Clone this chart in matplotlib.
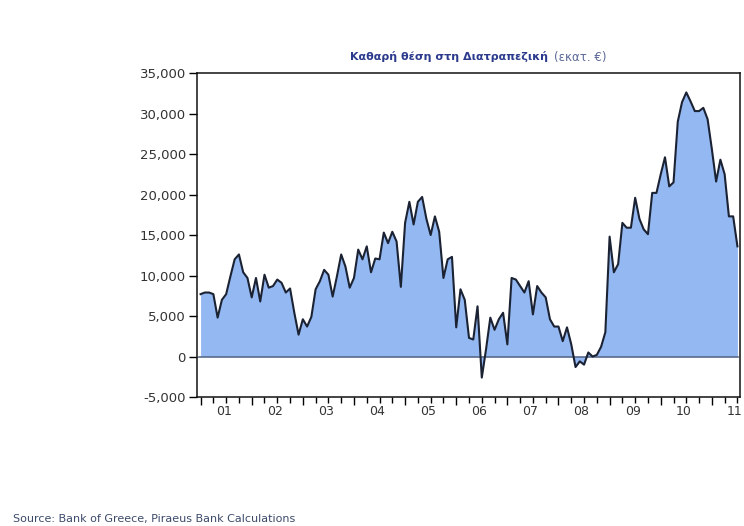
import numpy as np
import matplotlib.pyplot as plt
from matplotlib.ticker import FuncFormatter, MultipleLocator, FixedLocator

# net interbank position, million EUR, monthly from Jan 2001
start_year = 2001
values = [
    7700, 7900, 7900, 7700, 4800, 7000, 7700, 9900, 12000, 12600, 10400, 9700,     # 2001
    7300, 9700, 6800, 10100, 8500, 8700, 9500, 9100, 7900, 8400, 5400, 2700,       # 2002
    4600, 3700, 4900, 8300, 9300, 10700, 10100, 7400, 9900, 12600, 11100, 8500,    # 2003
    9700, 13200, 12000, 13600, 10400, 12100, 12000, 15300, 14000, 15400, 14200, 8600,  # 2004
    16500, 19100, 16300, 19100, 19700, 17000, 15000, 17300, 15400, 9700, 12000, 12300,  # 2005
    3600, 8300, 7000, 2300, 2100, 6200, -2600, 900, 4800, 3300, 4600, 5400,        # 2006
    1500, 9700, 9500, 8700, 7900, 9300, 5200, 8700, 7900, 7300, 4600, 3700,        # 2007
    3700, 1900, 3600, 1500, -1300, -600, -1000, 500, 0, 200, 1200, 3000,           # 2008
    14800, 10400, 11400, 16500, 15900, 15900, 19600, 17000, 15700, 15100, 20200, 20200,  # 2009
    22500, 24600, 21000, 21500, 29000, 31400, 32600, 31500, 30300, 30300, 30700, 29300,  # 2010
    25600, 21600, 24300, 22500, 17300, 17300, 13600,                              # 2011
]
year_labels = ['01', '02', '03', '04', '05', '06', '07', '08', '09', '10', '11']
y_ticks = [-5000, 0, 5000, 10000, 15000, 20000, 25000, 30000, 35000]

t = start_year + np.arange(len(values)) / 12.0
v = np.array(values)

fig = plt.figure(figsize=(7.44, 5.26), dpi=100)
ax = fig.add_axes([0.2648, 0.2452, 0.7298, 0.616])

ax.fill_between(t, 0, v, color='#93b8f2', linewidth=0)
ax.axhline(0, color='#5a6b8c', linewidth=1.2, xmin=0.003, xmax=0.997)
ax.plot(t, v, color='#1a2233', linewidth=1.5)

ax.set_xlim(2000.93, 2011.55)
ax.set_ylim(-5000, 35000)

ax.set_yticks(y_ticks)
ax.yaxis.set_major_formatter(FuncFormatter(lambda x, p: f'{int(x):,}'))
ax.tick_params(axis='y', direction='out', length=6, width=1, labelsize=9.5,
               labelcolor='#333333', pad=2)

# year boundary ticks + quarters, labels at mid-year
years = np.arange(2001, 2012)
ax.xaxis.set_major_locator(FixedLocator(years))
ax.xaxis.set_minor_locator(MultipleLocator(0.25))
ax.tick_params(axis='x', which='major', direction='out', length=6, width=1, labelbottom=False)
ax.tick_params(axis='x', which='minor', direction='out', length=4, width=1)

sec = ax.secondary_xaxis('bottom')
sec.set_xticks(years + 0.45)
sec.set_xticklabels(year_labels)
sec.tick_params(length=0, labelsize=9, labelcolor='#333333', pad=6)
sec.spines['bottom'].set_visible(False)

for s in ax.spines.values():
    s.set_linewidth(1.1)
    s.set_color('#111111')

fig.text(548 / 744, 1 - 57 / 526, 'Καθαρή θέση στη Διατραπεζική', ha='right', va='center',
         fontsize=8, fontweight='bold', color='#2b3a8c')
fig.text(554 / 744, 1 - 57 / 526, '(εκατ. €)', ha='left', va='center',
         fontsize=8.5, color='#5b6898')

fig.text(13 / 744, 1 - 519 / 526, 'Source: Bank of Greece, Piraeus Bank Calculations',
         ha='left', va='center', fontsize=8, color='#3c4a6a')

fig.savefig('out.png', dpi=100)
